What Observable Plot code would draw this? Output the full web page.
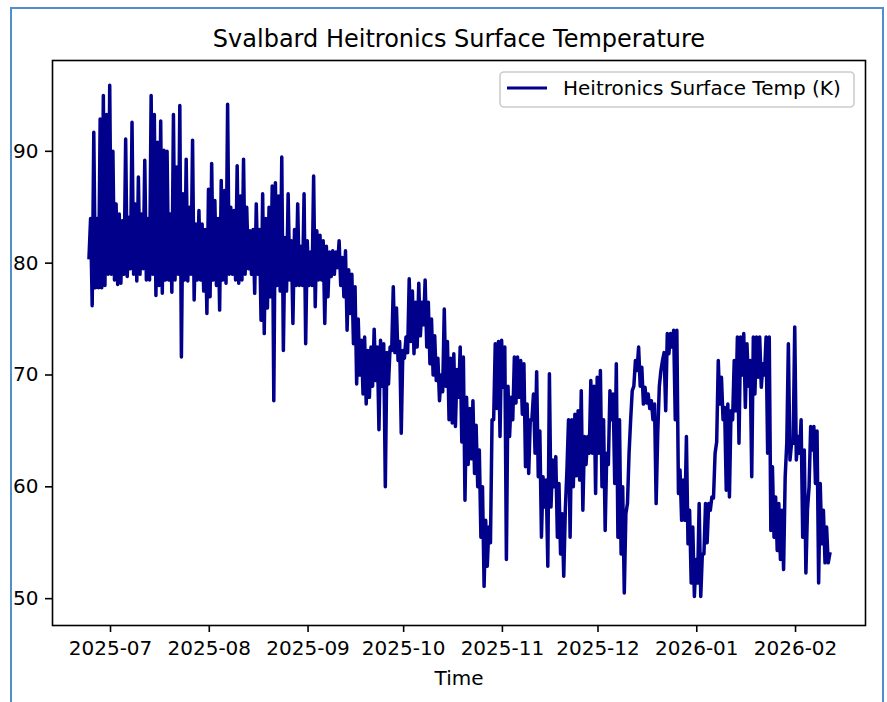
<!DOCTYPE html>
<html><head><meta charset="utf-8">
<script src="https://cdn.jsdelivr.net/npm/d3@7"></script>
<script src="https://cdn.jsdelivr.net/npm/@observablehq/plot@0.6"></script>
<style>
html,body{margin:0;padding:0;background:#fff;}
#wrap{position:relative;width:887px;height:702px;overflow:hidden;font-family:"DejaVu Sans",sans-serif;background:#fff;}
#border{position:absolute;left:10px;top:7px;width:874px;height:760px;border:2px solid #4f8fcc;box-sizing:border-box;}
#chart{position:absolute;left:0;top:0;}
#legend{position:absolute;left:499px;top:71px;}
</style>
</head><body>
<div id="wrap"><div id="border"></div><div id="chart"></div>
<svg id="legend" width="357" height="37"></svg>
</div>
<script>
// Daily [low, high] readings of the Heitronics surface temperature (K)
const jun = [[80.5,84],[76.2,91.7],[77.8,84],[77.8,92.9],[77.8,95.0],[78,93.3],[79,95.9]]; // Jun 24-30
const jul = [[79,90],[78.5,85.3],[78.1,84.4],[78.2,83.8],[79,91.1],[78.8,84.1],[79.5,92.6],[79,85.3],[78.4,87.7],[79,84.4],
  [79.5,89.2],[78.5,84],[78.5,95.0],[79,93.3],[77.1,90.8],[78,92.7],[77.3,90.1],[78.5,90],[78.5,84.4],[77.4,93.3],
  [78.5,88.6],[79,94.1],[71.6,86.2],[78.5,89.3],[78.4,85],[79,91],[76.7,83.5],[78.5,84.7],[78.5,83.5],[77.5,83],[75.5,86.6]];
const aug = [[77,88.9],[78.5,85.6],[78,84],[75.8,87.4],[78.5,86.5],[78.2,94.2],[79,85],[79,84.7],[78.5,88.7],[78.2,86],
  [78.5,89.3],[79,85],[79.5,82.9],[79,83],[77.3,85.3],[79,83],[74.9,86.2],[73.7,84],[76,85],[77,86.9],
  [67.7,87.2],[78,86],[77.5,89.5],[72.2,82.3],[77.5,86.2],[78.5,82],[74.6,83],[78,85.3],[78,81.5],[78,86.2],[72.8,82]];
const sep = [[78,81],[78,87.8],[76.1,82.9],[78.5,82.5],[78.5,82],[74.6,81.5],[77,81],[78.8,81.1],[79,81],[79.6,82],
  [78,80.5],[77,81.1],[74,79.4],[75.5,79],[72.8,77.9],[69.2,75],[70,73.1],[68.3,73.4],[67.4,72.2],[68,72.5],
  [69,74.1],[69.5,72.5],[65.1,73.1],[69,72.8],[60,72],[69.2,72.5],[72.2,77.9],[72,76],[71.3,73],[64.8,72.2]];
const oct = [[71.5,73.4],[72,78.6],[73,77.5],[71.9,76.5],[72.5,78.2],[73.5,76.5],[74.5,78.5],[72.5,76.5],[71,75],[70,73.5],
  [69.5,71.5],[67.7,70],[68.5,75.9],[69,73],[66,71.5],[65.7,71.9],[65.4,70.5],[68,72.5],[64,71.6],[58.8,68],
  [62,67],[62.5,67.7],[61.2,65.5],[60,63.3],[55.5,60],[51.1,57],[52.9,56.4],[55,66],[66,72.8],[67,73],[64.5,73.1]];
const nov = [[68.9,72.5],[53.5,69],[64.5,68],[66,71.6],[67.5,71.6],[68,71.3],[66.5,71],[61.8,67.4],[61.2,66],[66,68.3],
  [63,70.3],[60.9,65],[55.5,60.9],[58.2,60.6],[52.9,70.1],[58.2,62.4],[60,62.7],[55.5,60.3],[54,57.6],[52,58],
  [61.5,66],[55.5,66],[60,66.5],[61,66.8],[60.6,68.6],[57.9,64.5],[62,64.5],[63,69.5],[63,69],[59.4,69.8]];
const dec = [[63,70.4],[60,66],[56.1,63],[62,68.6],[66,68.3],[60.3,71],[55.5,66],[54,60],[50.5,57.6],[58.5,63],
  [66,68.6],[69,71.3],[70.4,72.5],[69,70.7],[67.4,68.9],[67.5,68.3],[67,67.7],[66,67.4],[58.5,64.8],[69,70.4],
  [71.3,72],[66.8,73.7],[71.9,73.7],[72.5,74],[66,74],[59.4,61.5],[57,60.6],[57,64.5],[54.9,57.9],[51.4,56.4],[50.2,53.5]];
const jan = [[51.4,58.5],[50.2,54],[54,58.5],[55,58.5],[57.9,59.1],[59,63],[64,71.3],[67.4,69.8],[66,67.1],[59.7,67.4],
  [59.1,66.8],[66,71.3],[66.8,73.4],[63.9,73.4],[70,73.7],[67.1,72.8],[69,71.3],[60.9,73.4],[68.3,73.4],[69.8,73.4],
  [68.9,71],[70,73.4],[63,73.4],[56.1,61.8],[55.5,59.1],[54.3,58.5],[53.5,57.9],[52.6,60.9],[63.9,72.8],[62.4,63.9],[63.9,74.3]];
const feb = [[62.4,64.5],[63,66],[55.5,63.3],[52.3,58],[60,65.4],[63.3,65.4],[60.3,65],[51.4,60.3],[54.9,57.9],[53.2,56.4],[53.2,54]]; // Feb 1-11

const monthStarts = ["2025-06-24","2025-07-01","2025-08-01","2025-09-01","2025-10-01","2025-11-01","2025-12-01","2026-01-01","2026-02-01"];
const monthValues = [jun, jul, aug, sep, oct, nov, dec, jan, feb];

const xTickLabels = ["2025-07","2025-08","2025-09","2025-10","2025-11","2025-12","2026-01","2026-02"];
const yTicks = [50, 60, 70, 80, 90];

const parseDay = d3.utcParse("%Y-%m-%d");
const parseMonth = d3.utcParse("%Y-%m");
const data = [];
monthValues.forEach((vals, k) => {
  const s = parseDay(monthStarts[k]);
  vals.forEach(([lo, hi], i) => {
    const day = d3.utcDay.offset(s, i);
    data.push({t: d3.utcHour.offset(day, 6), v: lo});
    data.push({t: d3.utcHour.offset(day, 18), v: hi});
  });
});

const xTicks = xTickLabels.map(parseMonth);
const LINE = "#00008b";

const chart = Plot.plot({
  width: 887, height: 702,
  marginLeft: 52, marginRight: 22, marginTop: 60, marginBottom: 77,
  style: {fontFamily: "DejaVu Sans", fontSize: "20px", background: "transparent", color: "black", overflow: "visible"},
  x: {type: "utc", domain: [new Date(Date.UTC(2025,5,12,19)), new Date(Date.UTC(2026,1,22,23))]},
  y: {domain: [47.6, 98.12]},
  marks: [
    Plot.line(data, {x: "t", y: "v", stroke: LINE, strokeWidth: 3.5, strokeLinejoin: "round", strokeLinecap: "square"}),
    Plot.frame({stroke: "black", strokeWidth: 1.6}),
    Plot.axisX({ticks: xTicks, tickFormat: d3.utcFormat("%Y-%m"), tickSize: 7, tickPadding: 8, strokeWidth: 1.6, fontSize: 20, label: null}),
    Plot.axisY({ticks: yTicks, tickSize: 7, tickPadding: 7, strokeWidth: 1.6, fontSize: 20, label: null}),
    Plot.text(["Svalbard Heitronics Surface Temperature"], {text: d => d, frameAnchor: "top", dy: -14, lineAnchor: "bottom", fontSize: 24, fill: "black"}),
    Plot.text(["Time"], {text: d => d, frameAnchor: "bottom", dy: 59, lineAnchor: "bottom", fontSize: 20, fill: "black"})
  ]
});
document.getElementById("chart").appendChild(chart);

// legend
const lg = d3.select("#legend");
lg.append("rect").attr("x", 1).attr("y", 1).attr("width", 354).attr("height", 35).attr("rx", 4)
  .attr("fill", "rgba(255,255,255,0.8)").attr("stroke", "#cccccc").attr("stroke-width", 1.6);
lg.append("line").attr("x1", 8).attr("x2", 48).attr("y1", 17).attr("y2", 17).attr("stroke", LINE).attr("stroke-width", 3);
lg.append("text").attr("x", 64).attr("y", 17).attr("dy", "0.35em").attr("font-family", "DejaVu Sans").attr("font-size", 20)
  .attr("fill", "black").text("Heitronics Surface Temp (K)");
</script>
</body></html>
